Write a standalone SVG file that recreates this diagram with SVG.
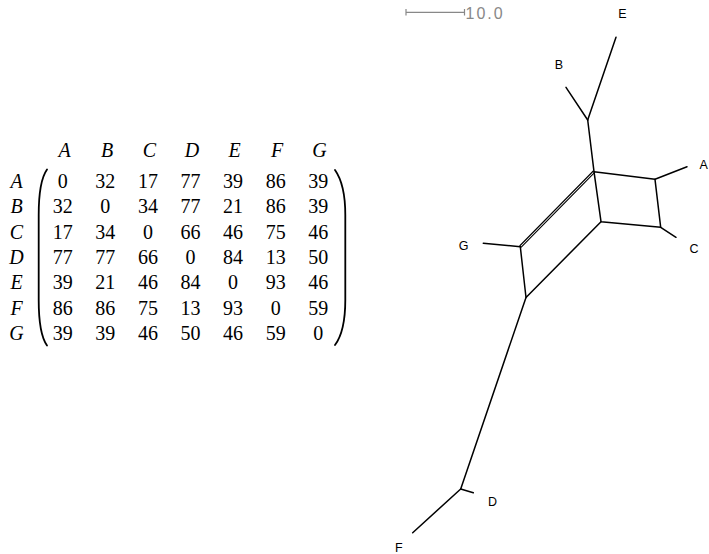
<svg xmlns="http://www.w3.org/2000/svg" width="709" height="554" viewBox="0 0 709 554">
<style>
.m{font-family:"Liberation Serif","Times New Roman",serif;font-size:20px;fill:#000;text-anchor:middle}
.mi{font-family:"Liberation Serif","Times New Roman",serif;font-size:20px;font-style:italic;fill:#000;text-anchor:middle}
.par{fill:none;stroke:#000;stroke-width:1.8;stroke-linecap:round}
.e{stroke:#000;stroke-width:1.5;fill:none;stroke-linecap:round;stroke-linejoin:round}
.e2{stroke:#000;stroke-width:1.1;fill:none}
.lbl{font-family:"Liberation Sans",Arial,sans-serif;font-size:12.5px;fill:#000}
.sc{stroke:#888;stroke-width:1.2;fill:none}
.sct{font-family:"Liberation Sans",Arial,sans-serif;font-size:16px;fill:#888;letter-spacing:2px}
</style>
<rect width="709" height="554" fill="#fff"/>
<g id="matrix">
<g id="col-headers">
<text class="mi" x="64.5" y="156.7">A</text>
<text class="mi" x="107" y="156.7">B</text>
<text class="mi" x="149.5" y="156.7">C</text>
<text class="mi" x="192" y="156.7">D</text>
<text class="mi" x="234.5" y="156.7">E</text>
<text class="mi" x="277" y="156.7">F</text>
<text class="mi" x="319.5" y="156.7">G</text>
</g>
<g id="row-headers">
<text class="mi" x="16.5" y="187.7">A</text>
<text class="mi" x="16.5" y="213.1">B</text>
<text class="mi" x="16.5" y="238.5">C</text>
<text class="mi" x="16.5" y="263.9">D</text>
<text class="mi" x="16.5" y="289.3">E</text>
<text class="mi" x="16.5" y="314.7">F</text>
<text class="mi" x="16.5" y="340.1">G</text>
</g>
<path class="par" d="M47,169.5 C41,178 38.7,193 38.7,215 L38.7,300 C38.7,322 41,337 47,345.5"/>
<path class="par" d="M335,170 C341,178.5 345.3,193 345.3,215 L345.3,300 C345.3,322 341,337 335,345"/>
<g id="values">
<text class="m" x="62.7" y="187.7">0</text><text class="m" x="105.3" y="187.7">32</text><text class="m" x="147.9" y="187.7">17</text><text class="m" x="190.5" y="187.7">77</text><text class="m" x="233.1" y="187.7">39</text><text class="m" x="275.7" y="187.7">86</text><text class="m" x="318.3" y="187.7">39</text>
<text class="m" x="62.7" y="213.1">32</text><text class="m" x="105.3" y="213.1">0</text><text class="m" x="147.9" y="213.1">34</text><text class="m" x="190.5" y="213.1">77</text><text class="m" x="233.1" y="213.1">21</text><text class="m" x="275.7" y="213.1">86</text><text class="m" x="318.3" y="213.1">39</text>
<text class="m" x="62.7" y="238.5">17</text><text class="m" x="105.3" y="238.5">34</text><text class="m" x="147.9" y="238.5">0</text><text class="m" x="190.5" y="238.5">66</text><text class="m" x="233.1" y="238.5">46</text><text class="m" x="275.7" y="238.5">75</text><text class="m" x="318.3" y="238.5">46</text>
<text class="m" x="62.7" y="263.9">77</text><text class="m" x="105.3" y="263.9">77</text><text class="m" x="147.9" y="263.9">66</text><text class="m" x="190.5" y="263.9">0</text><text class="m" x="233.1" y="263.9">84</text><text class="m" x="275.7" y="263.9">13</text><text class="m" x="318.3" y="263.9">50</text>
<text class="m" x="62.7" y="289.3">39</text><text class="m" x="105.3" y="289.3">21</text><text class="m" x="147.9" y="289.3">46</text><text class="m" x="190.5" y="289.3">84</text><text class="m" x="233.1" y="289.3">0</text><text class="m" x="275.7" y="289.3">93</text><text class="m" x="318.3" y="289.3">46</text>
<text class="m" x="62.7" y="314.7">86</text><text class="m" x="105.3" y="314.7">86</text><text class="m" x="147.9" y="314.7">75</text><text class="m" x="190.5" y="314.7">13</text><text class="m" x="233.1" y="314.7">93</text><text class="m" x="275.7" y="314.7">0</text><text class="m" x="318.3" y="314.7">59</text>
<text class="m" x="62.7" y="340.1">39</text><text class="m" x="105.3" y="340.1">39</text><text class="m" x="147.9" y="340.1">46</text><text class="m" x="190.5" y="340.1">50</text><text class="m" x="233.1" y="340.1">46</text><text class="m" x="275.7" y="340.1">59</text><text class="m" x="318.3" y="340.1">0</text>
</g>
</g>
<g id="scale">
<path class="sc" d="M406,12.3 H464.5 M406,9 V15.6 M464.5,9 V15.6"/>
<text class="sct" x="465.5" y="19.3">10.0</text>
</g>
<g id="connectors">
<path class="e" d="M587.7,120 L566,87.3"/>
<path class="e" d="M587.7,120 L616,37.3"/>
<path class="e" d="M587.7,120 L594,171.7"/>
<path class="e" d="M594,171.7 L655,179.3 L660.7,227.3 L601,221.7 Z"/>
<path class="e" d="M655,179.3 L687,166.8"/>
<path class="e" d="M660.7,227.3 L676,237.3"/>
<path class="e2" d="M519.6,246 L593.3,171 M521,247.4 L594.7,172.4"/>
<path class="e" d="M520.3,246.7 L483.3,243.3"/>
<path class="e" d="M520.3,246.7 L526,297.5 L601,221.7"/>
<path class="e" d="M526,297.5 L460.7,489"/>
<path class="e" d="M460.7,489 L473.3,492.7"/>
<path class="e" d="M460.7,489 L412.7,532.7"/>
</g>
<g id="node-A"><text class="lbl" x="699.5" y="168.5">A</text></g>
<g id="node-B"><text class="lbl" x="559" y="69" text-anchor="middle">B</text></g>
<g id="node-C"><text class="lbl" x="694" y="253.3" text-anchor="middle">C</text></g>
<g id="node-D"><text class="lbl" x="492.5" y="506" text-anchor="middle">D</text></g>
<g id="node-E"><text class="lbl" x="622.5" y="18.3" text-anchor="middle">E</text></g>
<g id="node-F"><text class="lbl" x="398.7" y="551.7" text-anchor="middle">F</text></g>
<g id="node-G"><text class="lbl" x="463.5" y="250" text-anchor="middle">G</text></g>
</svg>
